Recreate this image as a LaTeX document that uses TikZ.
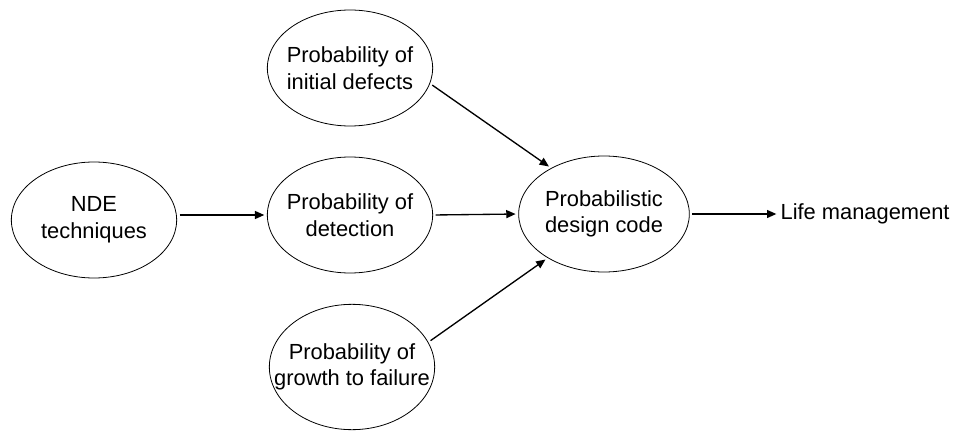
\documentclass[tikz,border=0pt]{standalone}
\usepackage{fontspec}
\setmainfont{Liberation Sans}
\usetikzlibrary{shapes.geometric,arrows.meta}

\begin{document}
\begin{tikzpicture}[x=0.75pt,y=-0.75pt,
  oval/.style={draw, ellipse, line width=0.6pt, inner sep=0pt,
    minimum width=124pt, minimum height=87pt},
  txt/.style={align=center, font=\fontsize{16.4}{20}\selectfont},
  link/.style={line width=1pt, -{Triangle[length=7pt,width=6pt]},
    shorten <=2pt, shorten >=2pt}]
\useasboundingbox (0,0) rectangle (953,431);

% Ovals
\node[oval] (ndt) at (94,220) {};
\node[oval] (defects) at (350,68) {};
\node[oval] (detect) at (350,215) {};
\node[oval, minimum height=94pt] (growth) at (352,367) {};
\node[oval, minimum width=128pt] (design) at (604,214) {};

% Texts inside the ovals
\node[txt] at (ndt) {NDE\\techniques};
\node[txt] at (defects) {Probability of\\initial defects};
\node[txt] at (detect) {Probability of\\detection};
\node[txt] at (growth) {Probability of\\growth to failure};
\node[txt] at (design) {Probabilistic\\design code};

% Output
\node[txt, anchor=west, inner sep=1pt] (life) at (779,214) {Life management};

% Arrows
\draw[link] (ndt.east |- detect) -- (detect.west);
\draw[link] (detect.east) -- (design.west);
\draw[link] (defects.-11) -- (design.139);
\draw[link] (growth.18) -- (design.218);
\draw[link] (design.east) -- (life.west);
\end{tikzpicture}
\end{document}
